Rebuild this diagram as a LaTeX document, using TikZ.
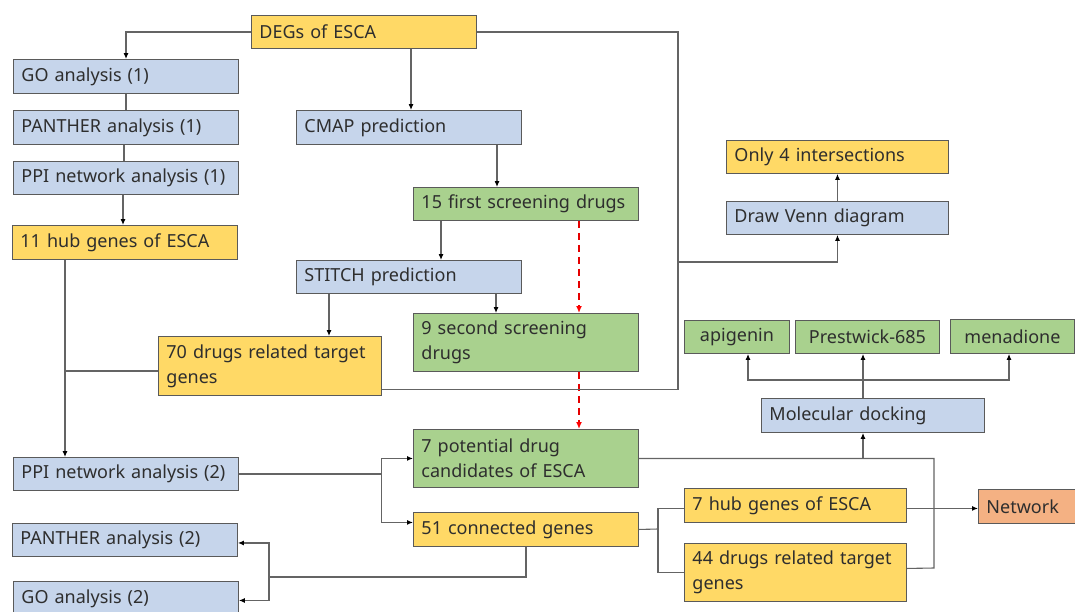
\documentclass[tikz,border=0pt]{standalone}
\usepackage{fontspec}
\setmainfont{Noto Sans}
\usetikzlibrary{arrows.meta}
\definecolor{cblue}{HTML}{C6D5EB}
\definecolor{cyellow}{HTML}{FFD966}
\definecolor{cgreen}{HTML}{A9D18E}
\definecolor{corange}{HTML}{F4B183}
\definecolor{cborder}{HTML}{5A5A5A}
\definecolor{cline}{HTML}{646464}
\definecolor{ctext}{HTML}{2E2E2E}
\tikzset{
  bx/.style={draw=cborder, line width=0.9pt, anchor=north west, inner xsep=8pt, inner ysep=0pt,
    align=left, text=ctext, font=\fontsize{18}{25}\selectfont},
  bxc/.style={bx, align=center},
  ln/.style={draw=cline, line width=1.1pt},
  arr/.style={ln, -{Latex[length=6pt,width=5pt,black]}},
  red arr/.style={draw=red!90!black, line width=1.6pt, dash pattern=on 7pt off 5pt,
    -{Latex[length=7pt,width=6pt,red]}},
}
\begin{document}
\begin{tikzpicture}[x=1pt,y=-1pt]
\useasboundingbox (0,0) rectangle (1075,611);
% nodes
\node[bx, fill=cyellow, text width=209pt, minimum height=33pt] (degs) at (251,15) {DEGs of ESCA};
\node[bx, fill=cblue, text width=209pt, minimum height=34pt] (go1) at (13,59) {GO analysis (1)};
\node[bx, fill=cblue, text width=209pt, minimum height=34pt] (pan1) at (13,110) {PANTHER analysis (1)};
\node[bx, fill=cblue, text width=209pt, minimum height=33pt] (ppi1) at (13,161) {PPI network analysis (1)};
\node[bx, fill=cyellow, text width=209pt, minimum height=34pt] (hub11) at (12,225) {11 hub genes of ESCA};
\node[bx, fill=cblue, text width=209pt, minimum height=34pt] (cmap) at (296,110) {CMAP prediction};
\node[bx, fill=cgreen, text width=209pt, minimum height=33pt] (first15) at (413,187) {15 first screening drugs};
\node[bx, fill=cblue, text width=209pt, minimum height=33pt] (stitch) at (296,260) {STITCH prediction};
\node[bx, fill=cyellow, text width=207pt, minimum height=59pt] (drugs70) at (158,336) {70 drugs related target\\genes};
\node[bx, fill=cgreen, text width=209pt, minimum height=58pt] (second9) at (413,313) {9 second screening\\drugs};
\node[bx, fill=cyellow, text width=206pt, minimum height=33pt] (only4) at (726,140) {Only 4 intersections};
\node[bx, fill=cblue, text width=206pt, minimum height=33pt] (venn) at (726,201) {Draw Venn diagram};
\node[bx, fill=cblue, text width=209pt, minimum height=33pt] (ppi2) at (13,457) {PPI network analysis (2)};
\node[bx, fill=cgreen, text width=209pt, minimum height=58pt] (pot7) at (413,429) {7 potential drug\\candidates of ESCA};
\node[bx, fill=cyellow, text width=209pt, minimum height=34pt] (con51) at (413,512) {51 connected genes};
\node[bx, fill=cblue, text width=209pt, minimum height=33pt] (pan2) at (12,523) {PANTHER analysis (2)};
\node[bx, fill=cblue, text width=209pt, minimum height=34pt] (go2) at (13,581) {GO analysis (2)};
\node[bxc, fill=cgreen, text width=89pt, minimum height=33pt] (apig) at (684,320) {apigenin};
\node[bxc, fill=cgreen, text width=128pt, minimum height=33pt] (prest) at (795,320) {Prestwick-685};
\node[bxc, fill=cgreen, text width=108pt, minimum height=34pt] (mena) at (950,319) {menadione};
\node[bx, fill=cblue, text width=207pt, minimum height=34pt] (dock) at (761,398) {Molecular docking};
\node[bx, fill=cyellow, text width=206pt, minimum height=34pt] (hub7) at (684,488) {7 hub genes of ESCA};
\node[bx, fill=cyellow, text width=206pt, minimum height=58pt] (drugs44) at (684,543) {44 drugs related target\\genes};
\node[bx, fill=corange, text width=94pt, minimum height=34pt] (net) at (978,489) {Network};
% helper coordinates
\coordinate (j1) at ([xshift=53pt]hub11.south west);
\coordinate (d70l) at ([yshift=-5pt]drugs70.west);
\coordinate (rx) at (678,262);
\coordinate (d70r) at ([yshift=6pt]drugs70.south east);
\coordinate (j5) at (269,577);
\coordinate (j6) at (658,529);
\coordinate (k) at (934,568);
\coordinate (dk) at ([xshift=102pt]dock.south west);
\coordinate (dt) at ([xshift=102pt]dock.north west);
\coordinate (h) at (863,380);
% left column
\draw[arr] (degs.west) -| ([xshift=113pt]go1.north west);
\draw[ln] ([xshift=113pt]go1.south west) -- ([xshift=113pt]pan1.north west);
\draw[ln] ([xshift=111pt]pan1.south west) -- ([xshift=111pt]ppi1.north west);
\draw[arr] ([xshift=110pt]ppi1.south west) -- ([xshift=111pt]hub11.north west);
\draw[arr] (j1) -- (j1 |- ppi2.north);
\draw[ln] (d70l) -- (j1 |- d70l);
% middle column
\draw[arr] ([xshift=160pt]degs.south west) coordinate (t0) -- (t0 |- cmap.north);
\draw[arr] ([xshift=201pt]cmap.south west) coordinate (t1) -- (t1 |- first15.north);
\draw[arr] ([xshift=28pt]first15.south west) coordinate (t2) -- (t2 |- stitch.north);
\draw[arr] ([xshift=33pt]stitch.south west) coordinate (t3) -- (t3 |- drugs70.north);
\draw[arr] ([xshift=200pt]stitch.south west) coordinate (t4) -- (t4 |- second9.north);
\draw[red arr] ([xshift=166pt]first15.south west) coordinate (t5) -- (t5 |- second9.north);
\draw[red arr] ([xshift=166pt]second9.south west) coordinate (t6) -- (t6 |- pot7.north);
% right long line and Venn
\draw[ln] (degs.east) -| (rx |- d70r) -- (d70r);
\draw[arr] (rx) -| (venn.south);
\draw[arr] (venn.north) -- (only4.south);
% PPI (2) split
\draw[ln] (ppi2.east) -- (drugs70.east |- ppi2.east);
\draw[arr] (drugs70.east |- ppi2.east) |- (pot7.west);
\draw[arr] (drugs70.east |- ppi2.east) |- ([yshift=7pt]con51.west);
% 51 connected genes down to GO/PANTHER (2)
\draw[ln] ([xshift=113pt]con51.south west) |- (j5);
\draw[arr] (j5) |- ([yshift=-3pt]pan2.east);
\draw[arr] (j5) |- ([yshift=-2pt]go2.east);
% 51 connected genes to hubs
\draw[ln] (con51.east) -- (j6);
\draw[ln] (j6) |- ([yshift=-3pt]hub7.west);
\draw[ln] (j6) |- (drugs44.west);
% docking
\draw[ln] (pot7.east) -| (k) -- ([yshift=4pt]drugs44.east);
\draw[arr] (dk |- pot7.east) -- (dk);
\draw[arr] (dt) -- (dt |- prest.south);
\draw[arr] (h) -| ([xshift=64pt]apig.south west);
\draw[arr] (h) -| ([xshift=59pt]mena.south west);
% network
\draw[arr] ([yshift=-3pt]hub7.east) -- ([yshift=-3pt]hub7.east -| net.west);
\end{tikzpicture}
\end{document}
